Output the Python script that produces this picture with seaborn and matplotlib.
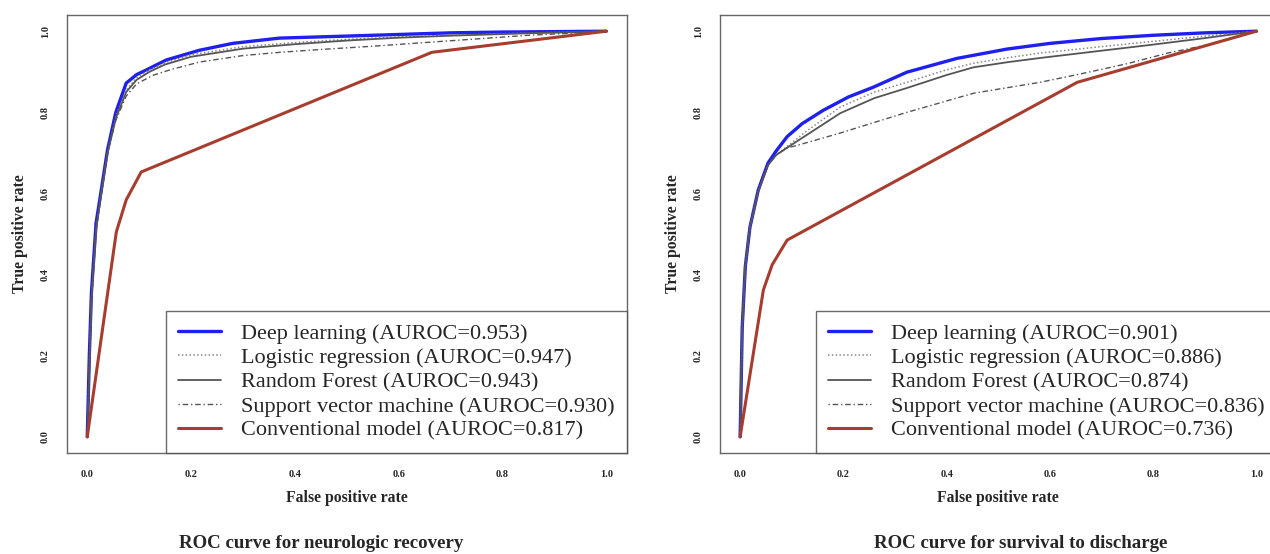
import numpy as np
import matplotlib
matplotlib.use('Agg')
import matplotlib.pyplot as plt
import pandas as pd
import seaborn as sns

sns.set_style('white')
plt.rcParams['font.family'] = ['Liberation Serif', 'DejaVu Serif']

# ROC curve points
# --- neurologic recovery ---
neuro_dl_fpr = [0, 0.004, 0.008, 0.017, 0.027, 0.039, 0.055, 0.075, 0.095, 0.113, 0.152, 0.216, 0.28, 0.37, 0.5, 0.6, 0.7, 0.8, 0.9, 1.0]
neuro_dl_tpr = [0, 0.2, 0.355, 0.527, 0.608, 0.707, 0.8, 0.872, 0.893, 0.904, 0.929, 0.953, 0.97, 0.983, 0.988, 0.992, 0.996, 0.998, 0.999, 1.0]
neuro_lr_fpr = [0, 0.008, 0.017, 0.027, 0.039, 0.055, 0.075, 0.095, 0.12, 0.15, 0.2, 0.3, 0.4, 0.5, 0.6, 0.7, 0.8, 0.9, 1.0]
neuro_lr_tpr = [0, 0.34, 0.51, 0.6, 0.7, 0.79, 0.855, 0.885, 0.905, 0.922, 0.942, 0.962, 0.972, 0.98, 0.986, 0.99, 0.994, 0.997, 1.0]
neuro_rf_fpr = [0, 0.008, 0.017, 0.027, 0.039, 0.055, 0.075, 0.095, 0.12, 0.15, 0.2, 0.3, 0.4, 0.5, 0.6, 0.7, 0.8, 0.9, 1.0]
neuro_rf_tpr = [0, 0.34, 0.51, 0.6, 0.7, 0.785, 0.85, 0.88, 0.9, 0.918, 0.937, 0.957, 0.968, 0.977, 0.984, 0.989, 0.993, 0.997, 1.0]
neuro_svm_fpr = [0, 0.008, 0.017, 0.027, 0.039, 0.055, 0.075, 0.095, 0.126, 0.16, 0.216, 0.3, 0.371, 0.45, 0.55, 0.65, 0.75, 0.85, 0.93, 1.0]
neuro_svm_tpr = [0, 0.34, 0.51, 0.6, 0.7, 0.78, 0.84, 0.87, 0.891, 0.905, 0.924, 0.94, 0.948, 0.955, 0.963, 0.972, 0.981, 0.99, 0.995, 1.0]
neuro_conv_fpr = [0, 0.056, 0.075, 0.104, 0.664, 1.0]
neuro_conv_tpr = [0, 0.505, 0.584, 0.653, 0.948, 1.0]
neuro_auc = ['0.953', '0.947', '0.943', '0.930', '0.817']

# --- survival to discharge ---
surv_dl_fpr = [0, 0.004, 0.01, 0.019, 0.035, 0.054, 0.07, 0.091, 0.12, 0.161, 0.21, 0.258, 0.323, 0.42, 0.517, 0.6, 0.7, 0.8, 0.9, 1.0]
surv_dl_tpr = [0, 0.27, 0.42, 0.517, 0.608, 0.675, 0.705, 0.74, 0.772, 0.805, 0.838, 0.862, 0.899, 0.933, 0.956, 0.97, 0.982, 0.99, 0.996, 1.0]
surv_lr_fpr = [0, 0.004, 0.01, 0.019, 0.035, 0.054, 0.07, 0.09, 0.13, 0.194, 0.26, 0.323, 0.4, 0.452, 0.52, 0.581, 0.7, 0.8, 0.9, 1.0]
surv_lr_tpr = [0, 0.27, 0.42, 0.517, 0.605, 0.67, 0.695, 0.715, 0.755, 0.813, 0.85, 0.874, 0.905, 0.921, 0.935, 0.946, 0.962, 0.975, 0.988, 1.0]
surv_rf_fpr = [0, 0.004, 0.01, 0.019, 0.035, 0.054, 0.07, 0.09, 0.13, 0.194, 0.26, 0.323, 0.4, 0.452, 0.52, 0.581, 0.7, 0.8, 0.9, 1.0]
surv_rf_tpr = [0, 0.27, 0.42, 0.517, 0.605, 0.67, 0.695, 0.712, 0.745, 0.798, 0.835, 0.86, 0.892, 0.911, 0.924, 0.934, 0.952, 0.967, 0.983, 1.0]
surv_svm_fpr = [0, 0.004, 0.01, 0.019, 0.035, 0.054, 0.07, 0.091, 0.12, 0.194, 0.323, 0.452, 0.504, 0.581, 0.653, 0.75, 0.828, 0.9, 1.0]
surv_svm_tpr = [0, 0.27, 0.42, 0.517, 0.605, 0.67, 0.695, 0.712, 0.722, 0.749, 0.80, 0.847, 0.858, 0.874, 0.893, 0.92, 0.946, 0.965, 1.0]
surv_conv_fpr = [0, 0.045, 0.062, 0.091, 0.653, 1.0]
surv_conv_tpr = [0, 0.362, 0.424, 0.485, 0.874, 1.0]
surv_auc = ['0.901', '0.886', '0.874', '0.836', '0.736']

model_names = ['Deep learning', 'Logistic regression', 'Random Forest',
               'Support vector machine', 'Conventional model']
ticks = [0.0, 0.2, 0.4, 0.6, 0.8, 1.0]
tick_labels = ['0.0', '0.2', '0.4', '0.6', '0.8', '1.0']

styles = [
    dict(color='#1f1fee', lw=2.4, ls='-'),
    dict(color='#888888', lw=1.1, ls=(0, (1, 1.5))),
    dict(color='#555555', lw=1.3, ls='-'),
    dict(color='#555555', lw=1.0, ls=(0, (1, 2, 4, 2))),
    dict(color='#a63d2e', lw=2.2, ls='-'),
]

W, H = 1270, 554
fig = plt.figure(figsize=(W / 100, H / 100), dpi=100)


def fig_ax(x0, x1, y0, y1):
    # pixel box -> figure fraction
    return fig.add_axes([x0 / W, 1 - y1 / H, (x1 - x0) / W, (y1 - y0) / H])


panels = [
    (fig_ax(66.5, 627, 15, 453),
     [(neuro_dl_fpr, neuro_dl_tpr), (neuro_lr_fpr, neuro_lr_tpr), (neuro_rf_fpr, neuro_rf_tpr),
      (neuro_svm_fpr, neuro_svm_tpr), (neuro_conv_fpr, neuro_conv_tpr)],
     neuro_auc, 'ROC curve for neurologic recovery', 321),
    (fig_ax(719.5, 1277, 15, 453),
     [(surv_dl_fpr, surv_dl_tpr), (surv_lr_fpr, surv_lr_tpr), (surv_rf_fpr, surv_rf_tpr),
      (surv_svm_fpr, surv_svm_tpr), (surv_conv_fpr, surv_conv_tpr)],
     surv_auc, 'ROC curve for survival to discharge', 1021),
]

for ax, curves, aucs, title, tx in panels:
    for (fpr, tpr), name, auc, st in zip(curves, model_names, aucs, styles):
        df = pd.DataFrame({'fpr': fpr, 'tpr': tpr})
        sns.lineplot(data=df, x='fpr', y='tpr', ax=ax, sort=False, estimator=None,
                     color=st['color'], linewidth=st['lw'], linestyle=st['ls'],
                     label=f'{name} (AUROC={auc})')
    ax.set_xlim(-0.04, 1.04)
    ax.set_ylim(-0.04, 1.04)
    ax.set_xticks(ticks)
    ax.set_xticklabels(tick_labels, fontsize=7.5, fontweight='bold')
    ax.set_yticks(ticks)
    ax.set_yticklabels(tick_labels, fontsize=7.5, fontweight='bold', rotation=90, va='center')
    ax.tick_params(axis='both', direction='out', length=5, width=0.8, color='#444444', pad=7)
    for s in ax.spines.values():
        s.set_color('#666666')
        s.set_linewidth(1.0)
    ax.set_xlabel('False positive rate', fontsize=11.3, fontweight='bold', labelpad=8)
    ax.set_ylabel('True positive rate', fontsize=11.3, fontweight='bold', labelpad=9)
    leg = ax.legend(loc='lower right', bbox_to_anchor=(1.0, 0.0), borderaxespad=0,
                    fontsize=16, frameon=True, fancybox=False, handlelength=1.95,
                    handletextpad=0.9, labelspacing=0.165, borderpad=0.55)
    leg.get_frame().set_edgecolor('#444444')
    leg.get_frame().set_linewidth(1.0)
    fig.text(tx / W, 1 - 543 / H, title, ha='center', va='center',
             fontsize=13.6, fontweight='bold')

fig.savefig('out.png', dpi=100)
